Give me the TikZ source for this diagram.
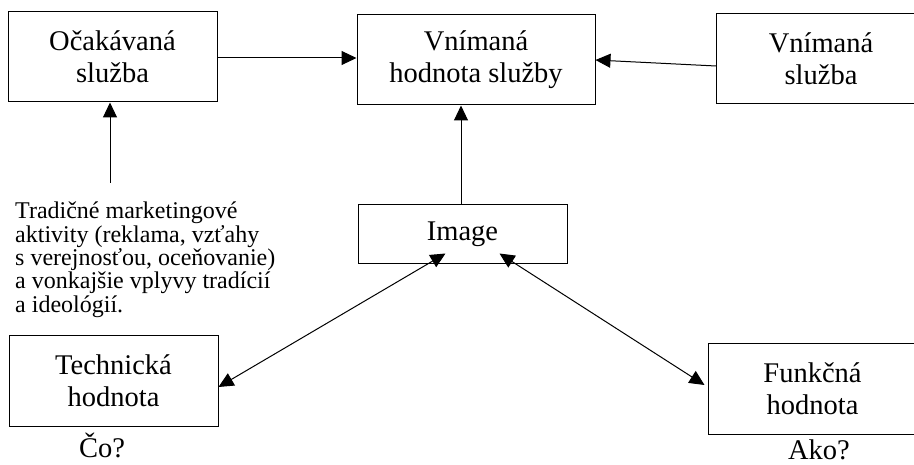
\documentclass[tikz,border=0pt]{standalone}
\usepackage{fontspec}
\setmainfont{Liberation Serif}
\usetikzlibrary{arrows.meta}
\tikzset{
  box/.style={draw, line width=1pt, minimum width=209pt, minimum height=90pt, align=center, inner sep=0pt,
    font=\fontsize{28.5}{32}\selectfont},
  conn/.style={line width=1pt, -{Triangle[length=15pt,width=14pt]}},
  dconn/.style={line width=1pt, {Triangle[length=15pt,width=14pt]}-{Triangle[length=15pt,width=14pt]}},
  note/.style={align=left, inner sep=0pt, font=\fontsize{24}{23.3}\selectfont},
  qlabel/.style={inner sep=0pt, font=\fontsize{28.5}{32}\selectfont}
}
\begin{document}
\begin{tikzpicture}[x=1pt, y=-1pt]
\useasboundingbox (0,0) rectangle (914,465);
\clip (0,0) rectangle (914,465);
\node[box] (oc) at (112.5,57) {Očakávaná\\služba};
\node[box, minimum width=238pt] (vh) at (476,60) {Vnímaná\\hodnota služby};
\node[box] (vs) at (821,59) {Vnímaná\\služba};
\node[box, minimum height=59pt] (im) at (462.5,234.5) {Image};
\node[box] (tech) at (113.5,381) {Technická\\hodnota};
\node[box] (func) at (812.5,389) {Funkčná\\hodnota};
\node[note, anchor=north west] (txt) at (15,202) {Tradičné marketingové\\aktivity (reklama, vzťahy\\s verejnosťou, oceňovanie)\\a vonkajšie vplyvy tradícií\\a ideológií.};
\node[qlabel, anchor=base] (co) at (102,457) {Čo?};
\node[qlabel, anchor=base] (ako) at (819,459) {Ako?};
\coordinate (tx) at (110,183);
\draw[conn] (oc.east |- 0,58) -- (vh.west |- 0,58);
\draw[conn] ([yshift=-7pt]vs.west) -- (vh.east);
\draw[conn] (im.north -| 461,0) -- (vh.south -| 461,0);
\draw[conn] (tx) -- (oc.south -| tx);
\draw[dconn] ([xshift=-17pt,yshift=11pt]im.south) -- ([yshift=-6pt]tech.east);
\draw[dconn] ([xshift=37pt,yshift=11pt]im.south) -- ([xshift=-3pt,yshift=4pt]func.west);
\end{tikzpicture}
\end{document}
